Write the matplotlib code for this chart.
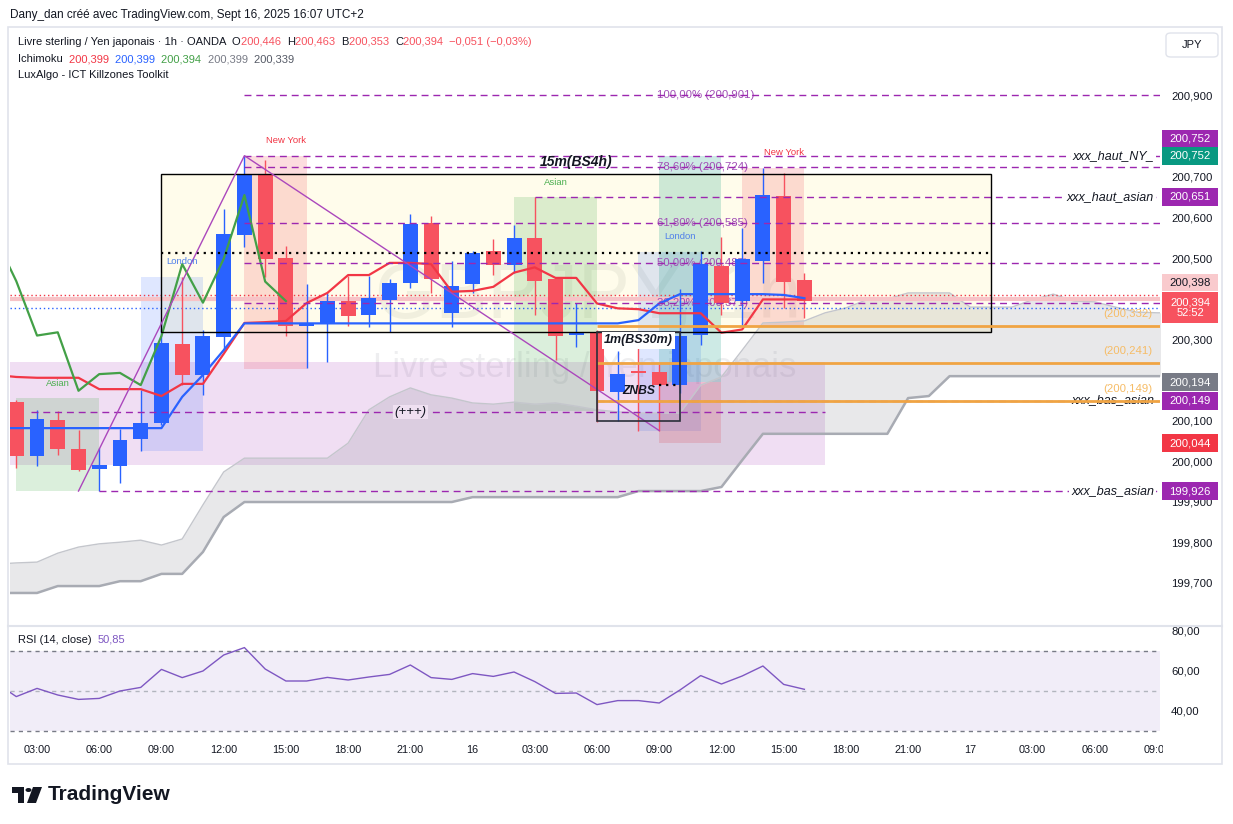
import numpy as np
import matplotlib
matplotlib.use("Agg")
import matplotlib.pyplot as plt
from matplotlib.patches import Rectangle, Polygon, Circle, FancyBboxPatch
from matplotlib.transforms import blended_transform_factory, Bbox, TransformedBbox

plt.rcParams['font.family'] = ['Liberation Sans', 'DejaVu Sans']

W, H = 1233, 824

# ---- GBPJPY 1h, heures comptees depuis le 15 sept 00:00 ----
hours = np.arange(2, 41)
opens = np.array([200.145, 200.013, 200.101, 200.030, 199.980, 199.988, 200.053, 200.093, 200.288, 200.212,
                  200.306, 200.557, 200.707, 200.500, 200.333, 200.339, 200.394, 200.360, 200.397, 200.438,
                  200.586, 200.365, 200.436, 200.517, 200.483, 200.549, 200.448, 200.310, 200.318, 200.171,
                  200.219, 200.219, 200.187, 200.310, 200.481, 200.395, 200.493, 200.653, 200.446])
highs = np.array([200.150, 200.126, 200.123, 200.077, 200.032, 200.079, 200.175, 200.345, 200.454, 200.322,
                  200.621, 200.752, 200.741, 200.530, 200.436, 200.417, 200.456, 200.456, 200.448, 200.608,
                  200.603, 200.493, 200.517, 200.547, 200.581, 200.650, 200.450, 200.388, 200.322, 200.271,
                  200.286, 200.239, 200.424, 200.517, 200.552, 200.573, 200.722, 200.709, 200.463])
lows = np.array([199.983, 199.988, 200.016, 199.976, 199.926, 199.946, 200.025, 200.089, 200.187, 200.163,
                 200.273, 200.528, 200.454, 200.308, 200.229, 200.245, 200.333, 200.329, 200.318, 200.425,
                 200.415, 200.331, 200.413, 200.458, 200.462, 200.360, 200.249, 200.282, 200.097, 200.099,
                 200.075, 200.075, 200.167, 200.286, 200.360, 200.333, 200.438, 200.376, 200.353])
closes = np.array([200.013, 200.103, 200.030, 199.978, 199.990, 200.052, 200.093, 200.290, 200.212, 200.308,
                   200.559, 200.707, 200.498, 200.333, 200.337, 200.394, 200.358, 200.401, 200.438, 200.584,
                   200.448, 200.431, 200.512, 200.483, 200.549, 200.443, 200.309, 200.317, 200.173, 200.214,
                   200.217, 200.187, 200.308, 200.485, 200.390, 200.498, 200.655, 200.442, 200.394])
last_change = "\u22120,051 (\u22120,03%)"

# Ichimoku
ich_hours = np.arange(1, 41)
tenkan = np.array([200.081] * 9 + [200.158, 200.212, 200.273] + [200.339] * 19
                  + [200.347, 200.388] + [200.411] * 5 + [200.409, 200.401])
kijun = np.array([200.212, 200.207, 200.205, 200.205, 200.205, 200.177, 200.177, 200.177, 200.160, 200.190,
                  200.190, 200.264, 200.340, 200.342, 200.345, 200.389, 200.414, 200.458, 200.458, 200.488,
                  200.488, 200.485, 200.417, 200.419, 200.429, 200.464, 200.477, 200.451, 200.451, 200.388,
                  200.376, 200.374, 200.364, 200.364, 200.364, 200.316, 200.324, 200.398, 200.398, 200.398])
chikou_shift = 25
cloud_hours = np.arange(1, 59)
span_up = np.array([199.746, 199.749, 199.751, 199.773, 199.788, 199.796, 199.800, 199.805, 199.793, 199.808,
                    199.892, 199.973, 200.007, 200.007, 200.007, 200.007, 200.007, 200.044, 200.126, 200.158,
                    200.180, 200.163, 200.155, 200.143, 200.140, 200.145, 200.140, 200.143, 200.135, 200.126,
                    200.121, 200.118, 200.118, 200.118, 200.187, 200.207, 200.273, 200.340, 200.342, 200.345,
                    200.365, 200.377, 200.397, 200.399, 200.414, 200.414, 200.414, 200.379, 200.379, 200.379,
                    200.397, 200.411, 200.394, 200.392, 200.379, 200.367, 200.365, 200.365])
span_dn = np.array([199.675] * 3 + [199.692] * 3 + [199.704] * 2 + [199.722] * 2 + [199.776, 199.862]
                   + [199.899] * 11 + [199.911] * 8 + [199.926] * 4 + [199.936, 200.002]
                   + [200.067] * 7 + [200.155, 200.160] + [200.209] * 12)
ich_legend = [("200,399", '#F23645'), ("200,399", '#2962FF'), ("200,394", '#43A047'),
              ("200,399", '#787B86'), ("200,339", '#555A66')]

# RSI (14)
rsi = np.array([54.2, 47.2, 51.3, 48.0, 45.8, 46.3, 50.0, 51.8, 60.8, 56.7, 60.0, 68.0, 71.7, 61.0, 55.0,
                55.0, 56.8, 55.5, 57.0, 58.3, 63.0, 56.7, 55.8, 58.7, 57.3, 59.5, 54.7, 48.8, 49.0, 43.2,
                45.2, 45.2, 44.0, 50.5, 57.7, 53.5, 57.5, 62.5, 53.3, 50.85])

# axe du temps
tick_hours = np.arange(3, 58, 3)
tick_labels = ["03:00", "06:00", "09:00", "12:00", "15:00", "18:00", "21:00", "16", "03:00", "06:00",
               "09:00", "12:00", "15:00", "18:00", "21:00", "17", "03:00", "06:00", "09:00"]
# graduations visibles (200,2 / 200,4 / 200,8 sont cachees par les etiquettes)
price_ticks = [199.7, 199.8, 199.9, 200.0, 200.1, 200.3, 200.5, 200.6, 200.7, 200.9]

# sessions LuxAlgo : nom, debut, fin, haut, bas, position du label
sessions = [("Asian", 2, 6, 200.154, 199.926, 4.0),
            ("London", 8, 11, 200.454, 200.025, 10.0),
            ("New York", 13, 16, 200.752, 200.227, 15.0),
            ("Asian", 26, 30, 200.650, 200.124, 28.0),
            ("London", 32, 35, 200.516, 200.075, 34.0),
            ("New York", 37, 40, 200.722, 200.333, 39.0)]
sess_style = {"Asian": ('#4CAF50', 0.2, '#4CAF50'),
              "London": ('#2962FF', 0.15, '#4F7FEA'),
              "New York": ('#F23645', 0.17, '#F23645')}

# dessins
fib_start = 13
fib_levels = [200.901, 200.724, 200.585, 200.487, 200.390]
fib_labels = ["100,00% (200,901)", "78,60% (200,724)", "61,80% (200,585)", "50,00% (200,487)", "38,20% (200,371)"]
named_levels = [(200.752, 13, "xxx_haut_NY_"), (200.651, 27, "xxx_haut_asian"),
                (200.149, 30, "xxx_bas_asian"), (199.926, 6, "xxx_bas_asian")]
orange_levels = [200.332, 200.241, 200.149]
zz_hours = [5, 13, 33]
zz_prices = [199.926, 200.752, 200.075]
big_box = (9, 49, 200.706, 200.318)
lav_box = (0, 41, 200.243, 199.990)
znbs_box = (30, 34, 200.318, 200.098)
long_pos = (33, 36, 200.752, 200.194, 200.044)
plus_level = (2.7, 41, 200.121)

price_tags = [("200,752", 200.752, '#9C27B0', 'white', 17, 18),
              ("200,752", 200.752, '#089981', 'white', 0, 18),
              ("200,651", 200.651, '#9C27B0', 'white', 0, 18),
              ("200,398", 200.398, '#F9CACD', '#131722', 16.5, 17),
              ("200,394\n52:52", 200.394, '#F7525F', 'white', -6.5, 31),
              ("200,194", 200.194, '#787B86', 'white', 0, 18),
              ("200,149", 200.149, '#9C27B0', 'white', 0, 18),
              ("200,044", 200.044, '#F23645', 'white', 0, 18),
              ("199,926", 199.926, '#9C27B0', 'white', 0, 18)]

BLUE, RED, PURPLE, DARK = '#2962FF', '#F7525F', '#9C27B0', '#131722'
ORANGE = '#F0A443'
XMIN, XMAX = 1.697, 57.146
YMIN, YMAX = 199.5961, 201.0665
PX = 406.0


def fx(px):
    return px / W


def fy(py):
    return 1 - py / H


def fmt(v, d=3):
    return f"{v:.{d}f}".replace('.', ',')


fig = plt.figure(figsize=(W / 100, H / 100), dpi=100)
fig.patch.set_facecolor('white')
ax = fig.add_axes([fx(10), fy(625), 1150 / W, 597 / H])
rax = fig.add_axes([fx(10), fy(737), 1150 / W, 110 / H])
for a in (ax, rax):
    for s in a.spines.values():
        s.set_visible(False)
    a.set_facecolor('none')

# filigrane
ax.text(fx(588), fy(298), "GBPJPY, 1h", transform=fig.transFigure, ha='center', va='center',
        fontsize=56, color='#787B86', alpha=0.11, zorder=0.1)
ax.text(fx(585), fy(368), "Livre sterling / Yen japonais", transform=fig.transFigure, ha='center',
        va='center', fontsize=25, color='#787B86', alpha=0.12, zorder=0.1)

# boites
ax.add_patch(Rectangle((lav_box[0], lav_box[3]), lav_box[1] - lav_box[0], lav_box[2] - lav_box[3],
                       facecolor=PURPLE, alpha=0.15, lw=0, zorder=0.5))
ax.add_patch(Rectangle((big_box[0], big_box[3]), big_box[1] - big_box[0], big_box[2] - big_box[3],
                       facecolor='#FFEB3B', alpha=0.1, lw=0, zorder=0.6))
ax.add_patch(Rectangle((big_box[0], big_box[3]), big_box[1] - big_box[0], big_box[2] - big_box[3],
                       facecolor='none', edgecolor='black', lw=1, zorder=6))
ax.hlines((big_box[2] + big_box[3]) / 2, big_box[0], big_box[1], colors='black', lw=1.6,
          linestyles=(0, (1, 2.2)), zorder=6)
ax.text(29, 200.736, "15m(BS4h)", fontsize=10, fontweight='bold', style='italic', ha='center',
        va='center', color=DARK, zorder=8)

for name, h0, h1, top, bot, lab_h in sessions:
    col, alp, lcol = sess_style[name]
    ax.add_patch(Rectangle((h0, bot), h1 - h0, top - bot, facecolor=col, alpha=alp, lw=0, zorder=0.8))
    ax.text(lab_h, top + 15 / PX, name, fontsize=6.8, color=lcol, ha='center', va='center', zorder=8)

# position longue
lh0, lh1, tgt, entry, stop = long_pos
ax.add_patch(Rectangle((lh0, entry), lh1 - lh0, tgt - entry, facecolor='#089981', alpha=0.2, lw=0, zorder=0.9))
ax.add_patch(Rectangle((lh0, stop), lh1 - lh0, entry - stop, facecolor='#F23645', alpha=0.2, lw=0, zorder=0.9))

# nuage ichimoku
ax.fill_between(cloud_hours, span_dn, span_up, color='#787B86', alpha=0.17, lw=0, zorder=1)
ax.plot(cloud_hours, span_up, color='#C4C6CC', lw=1, zorder=1.1)
ax.plot(cloud_hours, span_dn, color='#A8ABB3', lw=1.8, zorder=1.1)

# lignes horizontales pleine largeur
ax.hlines(200.398, XMIN, XMAX, colors='#F7C3C7', lw=3, zorder=1.5)
ax.hlines(200.409, XMIN, XMAX, colors='#F23645', lw=1, linestyles=(0, (1, 2)), zorder=1.5)
ax.hlines(200.376, XMIN, XMAX, colors=BLUE, lw=1, linestyles=(0, (1, 2)), zorder=1.5)

# niveaux fibo (textes sous les bougies)
dash = (0, (5, 3.5))
for lv, lab in zip(fib_levels, fib_labels):
    ax.hlines(lv, fib_start, XMAX, colors=PURPLE, lw=1, linestyles=dash, zorder=5)
    ax.text(32.9, lv, lab, fontsize=8.2, color='#A04DB5', ha='left', va='center', zorder=2.5)

# bougies
up = closes >= opens
cols = np.where(up, BLUE, RED)
ax.vlines(hours, lows, highs, colors=cols, lw=1, zorder=3)
body_lo = np.minimum(opens, closes)
body_h = np.maximum(np.abs(closes - opens), 0.004)
ax.bar(hours, body_h, bottom=body_lo, width=0.72, color=cols, lw=0, zorder=3.1)

# ichimoku lignes
ax.plot(ich_hours, kijun, color='#F23645', lw=1.6, zorder=4)
ax.plot(ich_hours, tenkan, color=BLUE, lw=1.6, zorder=4)
mask = hours >= 1 + chikou_shift
ax.plot(hours[mask] - chikou_shift, closes[mask], color='#43A047', lw=1.6, zorder=4)

# lignes nommees
for lv, h0, lab in named_levels:
    ax.hlines(lv, h0, XMAX, colors=PURPLE, lw=1, linestyles=dash, zorder=5)
    ax.text(56.86, lv, lab, fontsize=9, style='italic', color=DARK, ha='right', va='center', zorder=5.6,
            bbox=dict(boxstyle='square,pad=0.15', fc='white', ec='none'))
ax.hlines(plus_level[2], plus_level[0], plus_level[1], colors=PURPLE, lw=1, linestyles=dash, zorder=5)
ax.text(21, plus_level[2], "(+++)", fontsize=9.5, style='italic', color=DARK, ha='center', va='center',
        zorder=5.6, bbox=dict(boxstyle='square,pad=0.1', fc='#EFE0F1', ec='none'))
for lv in orange_levels:
    ax.hlines(lv, 30, XMAX, colors=ORANGE, lw=2, zorder=6)
    ax.text(56.76, lv + 12 / PX, "(" + fmt(lv) + ")", fontsize=8.2, color='#F6BC66', ha='right',
            va='center', zorder=6)

# zigzag
ax.plot(zz_hours, zz_prices, color='#AB47BC', lw=1, zorder=6)

# boite ZNBS
ax.add_patch(Rectangle((znbs_box[0], znbs_box[3]), znbs_box[1] - znbs_box[0], znbs_box[2] - znbs_box[3],
                       facecolor='none', edgecolor='#2A2E39', lw=1.2, zorder=6))
ax.hlines(200.187, 33, 34, colors='black', lw=1.6, linestyles=(0, (1, 2.2)), zorder=6)
ax.text(32, 200.298, "1m(BS30m)", fontsize=9, fontweight='bold', style='italic', ha='center',
        va='center', color=DARK, zorder=7, bbox=dict(boxstyle='square,pad=0.2', fc='white', ec='none'))
ax.text(32, 200.172, "ZNBS", fontsize=8.7, fontweight='bold', style='italic', ha='center', va='center',
        color=DARK, zorder=7)

ax.set_xlim(XMIN, XMAX)
ax.set_ylim(YMIN, YMAX)
ax.set_xticks([])
ax.yaxis.tick_right()
ax.set_yticks(price_ticks)
ax.set_yticklabels([fmt(v) for v in price_ticks])
ax.tick_params(axis='y', length=0, pad=8, labelsize=8.2, labelcolor=DARK)

# etiquettes de prix
tr = blended_transform_factory(fig.transFigure, ax.transData)
for txt, p, fc, tc, dy, hp in price_tags:
    yc = p + dy / PX
    fig.add_artist(Rectangle((fx(1162), yc - hp / 2 / PX), 56 / W, hp / PX, transform=tr,
                             facecolor=fc, edgecolor='none', zorder=5))
    fig.text(fx(1190), yc, txt, transform=tr, color=tc, fontsize=8 if "\n" in txt else 8.2,
             ha='center', va='center', linespacing=1.05, zorder=6)

# RSI
rax.axhspan(30, 70, color='#7E57C2', alpha=0.1, lw=0)
rax.axhline(70, color='#787B86', lw=1, ls=(0, (3, 3)))
rax.axhline(30, color='#787B86', lw=1, ls=(0, (3, 3)))
rax.axhline(50, color='#B2B5BE', lw=1, ls=(0, (3, 3)))
rax.plot(ich_hours, rsi, color='#7E57C2', lw=1)
rax.set_xlim(XMIN, XMAX)
rax.set_ylim(27, 82)
rax.set_xticks([])
rax.yaxis.tick_right()
rax.set_yticks([40, 60, 80])
rax.set_yticklabels(["40,00", "60,00", "80,00"])
rax.tick_params(axis='y', length=0, pad=8, labelsize=8.2, labelcolor=DARK)

ttr = blended_transform_factory(rax.transData, fig.transFigure)
clip = TransformedBbox(Bbox([[0, 0], [fx(1163), 1]]), fig.transFigure)
for th, tl in zip(tick_hours, tick_labels):
    t = fig.text(th, fy(750), tl, transform=ttr, fontsize=7.8, color=DARK, ha='center', va='center')
    t.set_clip_box(clip)
    t.set_clip_on(True)

# cadre
fig.add_artist(Rectangle((fx(8), fy(764)), 1214 / W, 737 / H, transform=fig.transFigure,
                         facecolor='none', edgecolor='#E0E3EB', lw=1.2))
fig.add_artist(plt.Line2D([fx(8), fx(1222)], [fy(626), fy(626)], transform=fig.transFigure,
                          color='#E0E3EB', lw=1.5))
fig.add_artist(FancyBboxPatch((fx(1166), fy(57)), 52 / W, 24 / H, transform=fig.transFigure,
                              boxstyle='round,pad=0,rounding_size=0.004', facecolor='white',
                              edgecolor='#E0E3EB', lw=1))
fig.text(fx(1192), fy(45), "JPY", fontsize=8, color=DARK, ha='center', va='center')

# en-tetes
renderer = fig.canvas.get_renderer()


def text_row(x, y, parts, size):
    for s, c in parts:
        t = fig.text(fx(x), fy(y), s, color=c, fontsize=size, ha='left', va='center')
        x = t.get_window_extent(renderer).x1


fig.text(fx(10), fy(15), "Dany_dan cr\u00e9\u00e9 avec TradingView.com, Sept 16, 2025 16:07 UTC+2",
         fontsize=8.5, color=DARK, ha='left', va='center')
text_row(18, 42, [("Livre sterling / Yen japonais \u00b7 1h \u00b7 OANDA  ", DARK),
                  ("O", DARK), (fmt(opens[-1]) + "  ", RED), ("H", DARK), (fmt(highs[-1]) + "  ", RED),
                  ("B", DARK), (fmt(lows[-1]) + "  ", RED), ("C", DARK), (fmt(closes[-1]) + "  ", RED),
                  (last_change, RED)], 8)
text_row(18, 59, [("Ichimoku  ", DARK)] + [(v + "  ", c) for v, c in ich_legend], 8)
text_row(18, 75, [("LuxAlgo - ICT Killzones Toolkit", DARK)], 8)
text_row(18, 640, [("RSI (14, close)  ", DARK), (fmt(rsi[-1], 2), '#7E57C2')], 8)

# logo
logo = [[(12, 787), (24, 787), (24, 803), (18, 803), (18, 793), (12, 793)],
        [(33, 787), (42, 787), (36, 803), (27, 803)]]
for pts in logo:
    fig.add_artist(Polygon([(fx(a), fy(b)) for a, b in pts], closed=True, transform=fig.transFigure,
                           facecolor=DARK, edgecolor='none'))
fig.add_artist(Circle((fx(28.5), fy(790)), 3 / W, transform=fig.transFigure, facecolor=DARK, edgecolor='none'))
fig.text(fx(48), fy(795), "TradingView", fontsize=15, fontweight='bold', color=DARK, ha='left', va='center')

fig.savefig("out.png", dpi=100)
